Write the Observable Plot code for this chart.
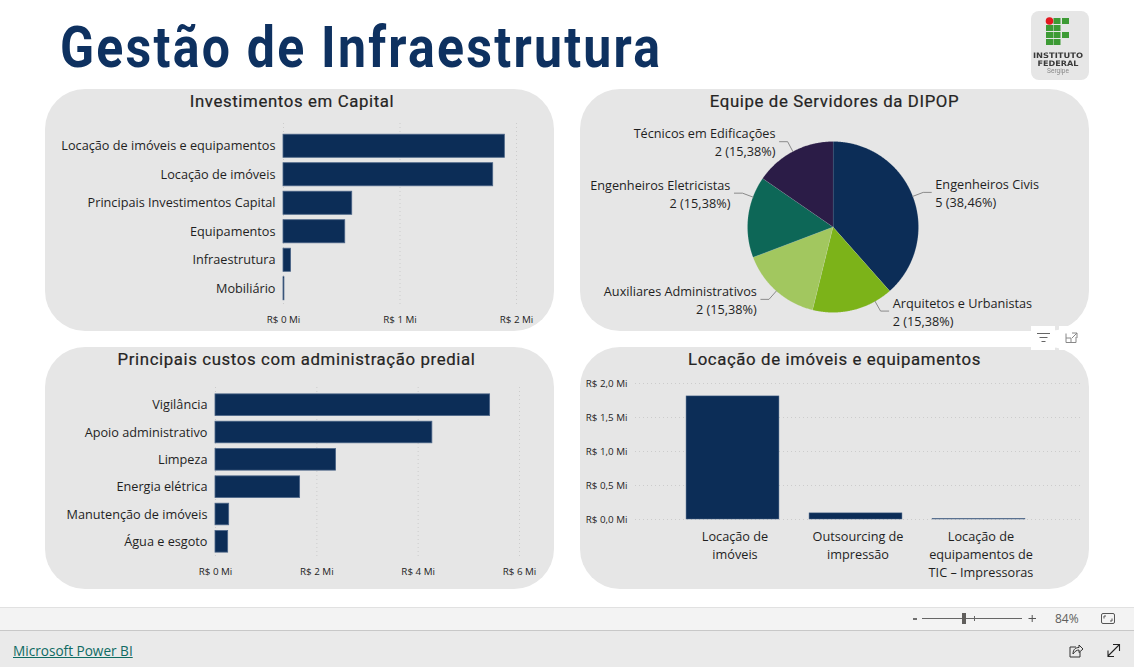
<!DOCTYPE html>
<html lang="pt-BR"><head><meta charset="utf-8">
<script src="https://cdn.jsdelivr.net/npm/d3@7"></script>
<script src="https://cdn.jsdelivr.net/npm/@observablehq/plot@0.6"></script>
<style>
html,body{margin:0;padding:0;background:#fff;width:1134px;height:667px;overflow:hidden;font-family:"Open Sans",sans-serif;color:#252423}
.abs{position:absolute}
.panel{position:absolute;width:509px;height:242px;background:#e6e6e6;border-radius:40px;}
.panel svg{position:absolute;left:0;top:0;background:transparent;overflow:visible;color:#1f1f1f}
.ptitle{position:absolute;left:0;right:0;top:1px;text-align:center;font:400 16.8px/22px Roboto,sans-serif;letter-spacing:.62px;color:#252423;z-index:2;-webkit-text-stroke:.2px #252423}
#title{position:absolute;left:60px;top:12px;font:700 58px/70px Roboto,sans-serif;color:#0e3160;letter-spacing:2.6px;transform-origin:0 0;transform:scaleX(.862);white-space:nowrap;filter:blur(.5px)}
#strip{position:absolute;left:0;top:607px;width:1134px;height:22px;background:#f3f3f3;border-top:1px solid #e1e1e1;border-bottom:1px solid #c8c8c8}
#foot{position:absolute;left:0;top:631px;width:1134px;height:36px;background:#eaeaea}
#brand{position:absolute;left:13px;top:642px;font:500 13.6px/18px "Open Sans",sans-serif;color:#0f6b63;text-decoration:underline}
#pct{position:absolute;left:1055px;top:611px;font:12px/16px "Open Sans",sans-serif;color:#605e5c}
</style></head><body>
<div id="title">Gestão de Infraestrutura</div>
<svg class="abs" style="left:1031px;top:11px;filter:blur(.3px)" width="58" height="69" viewBox="0 0 58 69">
  <rect width="58" height="69" rx="8" fill="#e6e6e6"/>
  <g fill="#3d9b35"><rect x="22.500" y="7" width="7" height="6"/><rect x="31" y="7" width="7" height="6"/>
  <rect x="15" y="14" width="7" height="6"/><rect x="22.500" y="14" width="7" height="6"/>
  <rect x="15" y="21" width="7" height="6"/><rect x="22.500" y="21" width="7" height="6"/><rect x="31" y="21" width="7" height="6"/>
  <rect x="15" y="28" width="7" height="6"/><rect x="22.500" y="28" width="7" height="6"/></g>
  <circle cx="18.500" cy="10" r="3.800" fill="#e3171f"/>
  <text x="27" y="46.500" text-anchor="middle" font-family="DejaVu Sans" font-weight="700" font-size="7.500" textLength="50" lengthAdjust="spacingAndGlyphs" fill="#3a3a3a">INSTITUTO</text>
  <text x="27" y="54.500" text-anchor="middle" font-family="DejaVu Sans" font-weight="700" font-size="7.500" textLength="41" lengthAdjust="spacingAndGlyphs" fill="#3a3a3a">FEDERAL</text>
  <text x="27" y="62" text-anchor="middle" font-family="Roboto" font-size="6.500" fill="#888">Sergipe</text>
</svg>
<div class="panel" id="p1" style="left:45px;top:89px"><div class="ptitle" style="left:-15px">Investimentos em Capital</div></div>
<div class="panel" id="p2" style="left:580px;top:89px"><div class="ptitle">Equipe de Servidores da DIPOP</div></div>
<div class="panel" id="p3" style="left:45px;top:347px"><div class="ptitle" style="left:-6px">Principais custos com administração predial</div></div>
<div class="panel" id="p4" style="left:580px;top:347px"><div class="ptitle">Locação de imóveis e equipamentos</div></div>
<svg class="abs" style="left:1031px;top:326px;z-index:3" width="58" height="24" viewBox="0 0 58 24">
  <rect width="24" height="24" fill="#fff"/><rect x="28" width="30" height="24" fill="#fff"/>
  <path d="M6 7.500H19M8.500 11.500H16.500M10.500 15.500H14.500" stroke="#666" stroke-width="1" fill="none"/>
  <path d="M35 7.500V16.500H45V11M35 12H40V16.500M41 7H46V12M46 7L41 12" stroke="#888" stroke-width="1" fill="none"/>
</svg>
<div id="strip"></div><div id="foot"></div>
<div id="brand">Microsoft Power BI</div>
<div id="pct">84%</div>
<svg class="abs" style="left:0;top:607px" width="1134" height="60" viewBox="0 0 1134 60">
  <path d="M913 12H917" stroke="#444" stroke-width="1.500"/>
  <path d="M922 11.500H1022M974.500 9V14" stroke="#666" stroke-width="1" fill="none"/>
  <rect x="962" y="6" width="4" height="11" fill="#605e5c"/>
  <path d="M1028.500 11.500H1036M1032.200 8V15" stroke="#555" stroke-width="1"/>
  <rect x="1101.500" y="6.500" width="13" height="10" rx="1.500" fill="none" stroke="#555"/>
  <path d="M1104 11.500V9H1106M1112 11.500V14H1110" fill="none" stroke="#555"/>
  <path d="M1076 40H1070V50H1080V45M1073 47C1073 42 1076 40.500 1079 40.500V38L1083 42L1079 45.500V43C1077 43 1075 44 1073 47" fill="none" stroke="#333"/>
  <path d="M1108 49L1119 38M1113 37.500H1119.500V44M1108 43.500V49.500H1114" fill="none" stroke="#222" stroke-width="1.100"/>
</svg>
<script>
const capitalCategories = ["Locação de imóveis e equipamentos","Locação de imóveis","Principais Investimentos Capital","Equipamentos","Infraestrutura","Mobiliário"];
const capitalValues = [1.9,1.8,0.59,0.53,0.065,0.008];
const capitalTicks = [0,1,2];

const staffNames = ["Engenheiros Civis","Arquitetos e Urbanistas","Auxiliares Administrativos","Engenheiros Eletricistas","Técnicos em Edificações"];
const staffCounts = [5,2,2,2,2];
const staffShares = ["38,46%","15,38%","15,38%","15,38%","15,38%"];
const staffColors = ["#0c2d57","#7cb319","#a2c75f","#0d6757","#2b1c47"];
const staffLeaderAngles = [69,150.5,221.5,290.5,332];

const costCategories = ["Vigilância","Apoio administrativo","Limpeza","Energia elétrica","Manutenção de imóveis","Água e esgoto"];
const costValues = [5.42,4.28,2.38,1.67,0.27,0.25];
const costTicks = [0,2,4,6];

const rentCategories = ["Locação de imóveis","Outsourcing de impressão","Locação de equipamentos de TIC – Impressoras"];
const rentAxisLabels = ["Locação de\nimóveis","Outsourcing de\nimpressão","Locação de\nequipamentos de\nTIC – Impressoras"];
const rentValues = [1.81,0.09,0.006];
const rentTicks = [0,0.5,1,1.5,2];

const NAVY = "#0c2d57", EDGE = "#4a6487", GRID = "#cccccc", FONT = '"Open Sans", sans-serif';
const W = 509, H = 242, LABEL = 12.7;
const baseStyle = {fontFamily: FONT, background: "transparent", overflow: "visible"};
const rows = (cats, vals) => cats.map((name, i) => ({name, value: vals[i]}));

function hbars(host, cats, vals, ticks, o) {
  const svg = Plot.plot({
    width: W, height: H, style: baseStyle,
    marginLeft: o.left, marginRight: o.right, marginTop: o.top, marginBottom: o.bottom,
    x: {domain: [ticks[0], ticks[ticks.length - 1]]},
    y: {domain: cats, range: o.band, paddingInner: o.inner, paddingOuter: o.inner / 2, round: false},
    marks: [
      Plot.gridX({ticks, stroke: GRID, strokeOpacity: 1, strokeDasharray: "1,3"}),
      Plot.barX(rows(cats, vals), {x: "value", y: "name", fill: NAVY, stroke: EDGE, strokeWidth: 0.8}),
      Plot.axisY({tickSize: 0, tickPadding: 8, fontSize: LABEL, label: null}),
      Plot.axisX({ticks, tickSize: 0, tickPadding: o.pad, fontSize: 9.8, label: null, tickFormat: d => `R$ ${d} Mi`})
    ]
  });
  document.getElementById(host).appendChild(svg);
}
hbars("p1", capitalCategories, capitalValues, capitalTicks, {left: 238, right: 38, top: 34, bottom: 27, band: [42.5, 213.5], inner: 0.19, pad: 12});
hbars("p3", costCategories, costValues, costTicks, {left: 170, right: 35, top: 40, bottom: 32, band: [44, 208], inner: 0.21, pad: 11});

// pie: every slice is a closed line built from the counts, in unit-radius scale coordinates
const R = 85.5, cx = 252.5, cy = 137.5;
const total = d3.sum(staffCounts);
const pol = (deg, r) => ({x: r * Math.sin(deg * Math.PI / 180), y: -r * Math.cos(deg * Math.PI / 180)});
let acc = 0;
const slices = [];
staffNames.forEach((name, i) => {
  const a0 = acc / total * 360; acc += staffCounts[i];
  const a1 = acc / total * 360;
  slices.push({name, ...pol(0, 0)});
  for (const t of d3.range(a0, a1, 0.5)) slices.push({name, ...pol(t, 1)});
  slices.push({name, ...pol(a1, 1)});
});
const side = deg => deg < 180 ? 1 : -1;
const leaders = staffNames.flatMap((name, i) => {
  const a = staffLeaderAngles[i], e = pol(a, 1.13);
  return [{name, ...pol(a, 1)}, {name, ...e}, {name, x: e.x + side(a) * 0.095, y: e.y}];
});
const labels = staffNames.map((name, i) => {
  const a = staffLeaderAngles[i], e = pol(a, 1.13);
  return {x: e.x + side(a) * 0.095, y: e.y, right: a < 180, text: `${name}\n${staffCounts[i]} (${staffShares[i]})`};
});
document.getElementById("p2").appendChild(Plot.plot({
  width: W, height: H, style: baseStyle, margin: 0,
  x: {domain: [-cx / R, (W - cx) / R], range: [0, W], axis: null},
  y: {domain: [-cy / R, (H - cy) / R], range: [0, H], axis: null},
  color: {domain: staffNames, range: staffColors},
  marks: [
    Plot.line(slices, {x: "x", y: "y", z: "name", fill: "name", stroke: "#e6e6e6", strokeOpacity: 0.25, strokeWidth: 0.6, curve: "linear-closed"}),
    Plot.line(leaders, {x: "x", y: "y", z: "name", stroke: "#8a8a8a", strokeWidth: 1}),
    Plot.text(labels.filter(d => d.right), {x: "x", y: "y", text: "text", textAnchor: "start", dx: 4, fontSize: LABEL, lineHeight: 1.42, fill: "#1f1f1f"}),
    Plot.text(labels.filter(d => !d.right), {x: "x", y: "y", text: "text", textAnchor: "end", dx: -4, fontSize: LABEL, lineHeight: 1.42, fill: "#1f1f1f"})
  ]
}));

document.getElementById("p4").appendChild(Plot.plot({
  width: W, height: H, style: baseStyle,
  marginLeft: 55, marginRight: 8, marginTop: 36, marginBottom: 70,
  x: {domain: rentCategories, range: [91, 460], paddingInner: 0.245, paddingOuter: 0.1225, round: false},
  y: {domain: [0, 2], range: [172, 36]},
  marks: [
    Plot.gridY({ticks: rentTicks, stroke: GRID, strokeOpacity: 1, strokeDasharray: "1,3"}),
    Plot.barY(rows(rentCategories, rentValues), {x: "name", y: "value", fill: NAVY, stroke: EDGE, strokeWidth: 0.5}),
    Plot.axisY({ticks: rentTicks, tickSize: 0, tickPadding: 8, fontSize: 9.8, label: null, tickFormat: d => `R$ ${d.toFixed(1).replace(".", ",")} Mi`}),
    Plot.axisX({tickSize: 0, tickPadding: 9, fontSize: LABEL, label: null, dx: 2, lineHeight: 1.42, tickFormat: d => rentAxisLabels[rentCategories.indexOf(d)]})
  ]
}));
</script>
</body></html>
